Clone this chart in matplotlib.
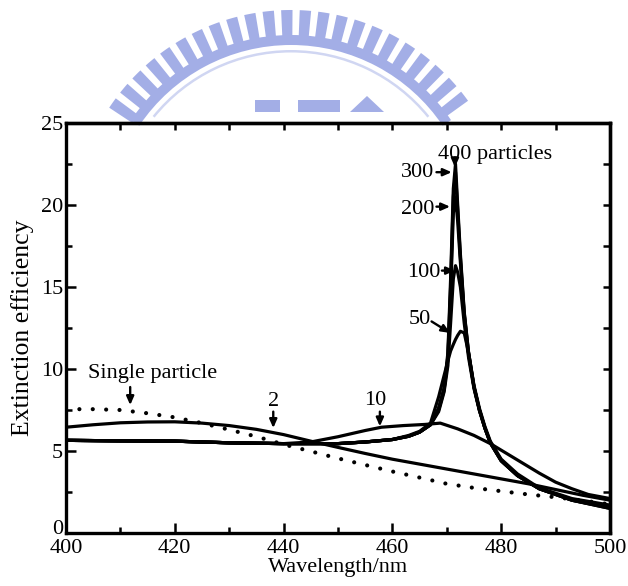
import numpy as np
import matplotlib
matplotlib.use('Agg')
import matplotlib.pyplot as plt
from matplotlib.patches import Wedge, Rectangle, Polygon
from matplotlib.transforms import ScaledTranslation

plt.rcParams['font.family'] = ['Liberation Serif', 'DejaVu Serif']

### single particle (dotted)
wl_single = [400, 405, 410, 415, 420, 425, 430, 435, 440, 445, 450, 455, 460,
             465, 470, 475, 480, 485, 490, 495, 500]
q_single = [7.55, 7.55, 7.5, 7.3, 7.05, 6.7, 6.3, 5.88, 5.4, 4.98, 4.55, 4.15,
            3.75, 3.38, 3.0, 2.75, 2.55, 2.35, 2.18, 1.98, 1.75]

### 2 particles
wl_2 = [400, 405, 410, 415, 420, 425, 430, 435, 440, 445, 450, 455, 460, 465,
        470, 475, 480, 485, 490, 495, 500]
q_2 = [6.45, 6.6, 6.72, 6.77, 6.78, 6.7, 6.55, 6.32, 6.0, 5.6, 5.22, 4.85,
       4.5, 4.2, 3.9, 3.6, 3.3, 3.0, 2.65, 2.3, 2.0]

### 10 particles
wl_10 = [400, 410, 420, 430, 440, 445, 450, 455, 458, 462, 466, 468.8, 472,
         475, 478, 481, 484, 487, 490, 493, 496, 500]
q_10 = [5.65, 5.62, 5.6, 5.5, 5.45, 5.55, 5.87, 6.25, 6.45, 6.55, 6.62, 6.7,
        6.35, 5.95, 5.45, 4.85, 4.25, 3.65, 3.1, 2.7, 2.35, 2.1]

### 50 - 400 particles share one wavelength grid
wl_big = [400, 410, 420, 430, 440, 450, 455, 460, 463, 465, 467, 468.5, 469.5,
          470.2, 470.7, 471.2, 471.6, 472.0, 472.5, 473.2, 474.0, 475.0, 476.0,
          477.0, 478.0, 480.0, 483.0, 487.0, 493.0, 500.0]
q_50 = [5.65, 5.62, 5.6, 5.5, 5.45, 5.45, 5.55, 5.7, 5.95, 6.2, 6.7, 8.3, 9.6,
        10.5, 11.1, 11.5, 11.8, 12.05, 12.3, 12.2, 11.0, 9.0, 7.6, 6.5, 5.6,
        4.5, 3.6, 2.75, 2.1, 1.7]
q_100 = [5.65, 5.62, 5.6, 5.5, 5.45, 5.45, 5.55, 5.7, 5.9, 6.15, 6.6, 7.4, 8.6,
         10.2, 12.8, 15.5, 16.3, 15.9, 15.0, 12.8, 10.7, 8.8, 7.45, 6.4, 5.5,
         4.45, 3.5, 2.7, 2.05, 1.6]
q_200 = [5.65, 5.62, 5.6, 5.5, 5.45, 5.45, 5.55, 5.7, 5.9, 6.15, 6.6, 7.5, 8.7,
         10.6, 14.5, 19.5, 20.5, 19.0, 16.5, 13.3, 10.9, 8.9, 7.5, 6.4, 5.5,
         4.4, 3.5, 2.7, 2.0, 1.55]
q_300 = [5.65, 5.62, 5.6, 5.5, 5.45, 5.45, 5.55, 5.7, 5.9, 6.15, 6.6, 7.6, 8.8,
         10.8, 15.0, 20.5, 22.0, 19.7, 16.8, 13.4, 11.0, 8.9, 7.5, 6.4, 5.5,
         4.4, 3.5, 2.7, 2.0, 1.5]
q_400 = [5.65, 5.62, 5.6, 5.5, 5.45, 5.45, 5.55, 5.7, 5.9, 6.15, 6.6, 7.6, 8.8,
         11.0, 15.5, 21.0, 22.5, 20.0, 17.0, 13.5, 11.0, 8.9, 7.5, 6.4, 5.5,
         4.4, 3.5, 2.7, 2.0, 1.5]

x_major = [400, 420, 440, 460, 480, 500]
y_major = [0, 5, 10, 15, 20, 25]


def draw_watermark(fig):
    ### faint university logo above the plot, drawn in pixel units
    wm = fig.add_axes([0, 0, 1, 1], zorder=0)
    wm.set_xlim(0, 628)
    wm.set_ylim(586, 0)
    wm.axis('off')
    col = '#a3aee6'
    cx, cy = 291, 228
    for a in np.arange(-145, -33, 4.9):
        wm.add_patch(Wedge((cx, cy), 218, a - 1.5, a + 1.5, width=28,
                           color=col, lw=0))
    wm.add_patch(Wedge((cx, cy), 193, -146, -34, width=10, color=col, lw=0))
    wm.add_patch(Wedge((cx, cy), 178, -141, -39, width=2.5, color='#d0d6f2', lw=0))
    wm.add_patch(Rectangle((255, 100), 25, 12, color=col, lw=0))
    wm.add_patch(Rectangle((298, 100), 42, 12, color=col, lw=0))
    wm.add_patch(Polygon([(350, 112), (367, 96), (384, 112)], closed=True,
                         color=col, lw=0))


def arrow(ax, start, end):
    ax.annotate('', xy=end, xytext=start,
                arrowprops=dict(arrowstyle='-|>,head_length=0.5,head_width=0.22',
                                color='black', lw=1.7, shrinkA=0, shrinkB=0))


fig = plt.figure(figsize=(6.28, 5.86), dpi=100)
draw_watermark(fig)
ax = fig.add_axes([66 / 628, 1 - 533 / 586, 544 / 628, 410 / 586], zorder=1)
ax.patch.set_alpha(0)

ax.plot(wl_single, q_single, color='black', lw=3.0,
        linestyle=(0, (0.01, 3.2)), dash_capstyle='round')
ax.plot(wl_2, q_2, color='black', lw=2.3)
ax.plot(wl_10, q_10, color='black', lw=2.3)
for q in [q_50, q_100, q_200, q_300, q_400]:
    ax.plot(wl_big, q, color='black', lw=2.3)

ax.set_xlim(400, 500)
ax.set_ylim(0, 25)
ax.set_xticks(x_major)
ax.set_xticks(np.arange(400, 501, 10), minor=True)
ax.set_yticks(y_major)
ax.set_yticks(np.arange(0, 25.1, 2.5), minor=True)
ax.tick_params(which='both', direction='in', width=1.8, top=False, right=False,
               labelsize=16)
ax.tick_params(axis='x', pad=4)
ax.tick_params(axis='y', pad=2)
ax.tick_params(which='major', length=7)
ax.tick_params(which='minor', length=4)
for s in ax.spines.values():
    s.set_linewidth(2.4)

### the "0" sits a little higher than the tick, above the "400"
lab0 = ax.yaxis.get_major_ticks()[0].label1
lab0.set_transform(lab0.get_transform() + ScaledTranslation(0, 4 / 72, fig.dpi_scale_trans))

top = ax.secondary_xaxis('top')
top.set_xticks(np.arange(400, 501, 10))
top.tick_params(direction='in', length=5, width=1.8, labeltop=False)
right = ax.secondary_yaxis('right')
right.set_yticks(np.arange(0, 25.1, 2.5))
right.tick_params(direction='in', length=5, width=1.8, labelright=False)
top.spines['top'].set_linewidth(2.4)
right.spines['right'].set_linewidth(2.4)

ax.set_xlabel('Wavelength/nm', fontsize=16, labelpad=0)
ax.set_ylabel('Extinction efficiency', fontsize=18.5, labelpad=5)

### curve labels
ax.text(415.9, 9.7, 'Single particle', fontsize=16, ha='center', va='center')
arrow(ax, (411.8, 8.9), (411.8, 7.8))
ax.text(438.1, 8.0, '2', fontsize=16, ha='center', va='center')
arrow(ax, (438.1, 7.4), (438.1, 6.4))
ax.text(456.8, 8.1, '10', fontsize=16, ha='center', va='center')
arrow(ax, (457.7, 7.4), (457.7, 6.5))
ax.text(465.1, 13.0, '50', fontsize=16, ha='center', va='center')
arrow(ax, (467.2, 12.9), (470.6, 12.2))
ax.text(465.8, 15.9, '100', fontsize=16, ha='center', va='center')
arrow(ax, (469.1, 16.0), (471.5, 16.0))
ax.text(464.6, 19.7, '200', fontsize=16, ha='center', va='center')
arrow(ax, (468.1, 19.9), (470.6, 19.9))
ax.text(464.6, 22.0, '300', fontsize=16, ha='center', va='center')
arrow(ax, (468.1, 22.0), (470.9, 22.0))
ax.text(468.4, 23.1, '400 particles', fontsize=16, ha='left', va='center')
arrow(ax, (471.5, 22.9), (471.5, 22.3))

fig.savefig('out.png', dpi=100)
